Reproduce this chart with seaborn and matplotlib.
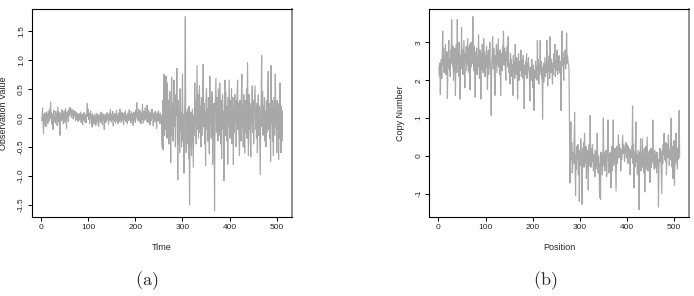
import numpy as np
import pandas as pd
import matplotlib
matplotlib.use("Agg")
import matplotlib.pyplot as plt
import seaborn as sns

# ---------------- data ----------------
obs_low = [
    -0.05, 0.02, 0.17, -0.08, -0.27, 0.05, -0.12, 0.08, 0.01, -0.15, 0.10, -0.03, 0.06, -0.10, 0.12, 0.03,
    -0.06, 0.15, 0.04, 0.27, -0.02, 0.09, -0.11, 0.05, -0.20, 0.07, 0.13, -0.04, 0.02, -0.09, 0.11, -0.01,
    0.06, -0.13, 0.18, 0.00, -0.07, 0.10, -0.18, -0.30, 0.04, 0.08, -0.05, 0.14, -0.02, 0.07, -0.10, 0.03,
    0.12, -0.08, 0.05, 0.16, -0.04, -0.18, 0.09, 0.02, 0.11, -0.06, 0.14, 0.04, 0.18, 0.08, 0.12, 0.01,
    0.15, 0.06, 0.10, -0.02, 0.13, 0.07, 0.03, 0.11, -0.05, 0.09, 0.02, -0.03, 0.08, -0.06, 0.05, 0.00,
    0.07, -0.04, 0.03, 0.10, -0.08, 0.02, 0.06, -0.12, 0.04, -0.02, 0.09, -0.06, 0.01, 0.05, -0.09, 0.03,
    0.11, 0.25, 0.02, 0.14, -0.03, 0.08, -0.10, 0.06, 0.12, -0.01, 0.04, -0.16, 0.07, -0.05, 0.03, -0.11,
    0.05, -0.07, 0.02, -0.13, 0.08, -0.04, 0.01, -0.09, 0.06, -0.15, 0.03, -0.02, 0.05, -0.08, 0.10, -0.06,
    0.02, -0.12, 0.07, -0.03, 0.04, -0.20, 0.01, 0.06, -0.08, 0.03, -0.05, 0.09, -0.02, 0.05, -0.11, 0.04,
    0.08, -0.04, 0.14, 0.02, -0.07, 0.06, -0.03, 0.11, -0.14, 0.03, -0.06, 0.07, 0.00, -0.09, 0.05, 0.13,
    -0.05, 0.04, -0.10, 0.08, 0.02, -0.06, 0.15, -0.02, 0.06, -0.08, 0.10, 0.01, -0.04, 0.07, -0.12, 0.05,
    0.09, -0.03, 0.12, -0.07, 0.04, 0.00, -0.10, 0.08, 0.03, -0.05, 0.14, -0.02, 0.06, -0.09, 0.11, 0.02,
    -0.06, 0.07, -0.13, 0.05, 0.10, -0.04, 0.08, -0.08, 0.13, 0.03, 0.26, -0.02, 0.09, -0.05, 0.15, 0.01,
    -0.07, 0.12, 0.04, -0.10, 0.08, -0.03, 0.23, 0.02, -0.09, 0.11, 0.05, -0.04, 0.17, 0.00, 0.09, -0.06,
    0.22, 0.03, -0.08, 0.13, -0.02, 0.07, -0.12, 0.10, 0.04, -0.05, 0.15, -0.01, 0.06, -0.14, 0.08, 0.02,
    -0.07, 0.11, -0.03, 0.06, -0.18, 0.09, 0.01, -0.06, 0.12, -0.04, 0.05, -0.10, 0.08, -0.02, 0.04, -0.20,
]
obs_high = [
    -0.50, 0.30, -0.55, 0.20, 0.75, -0.30, 0.40, -0.20, 0.72, 0.10, -0.35, 0.60, -0.10, 0.30, -0.45, 0.15,
    0.45, -0.20, -0.77, 0.10, 0.70, -0.30, 0.25, -0.40, 0.35, 0.65, -0.15, 0.20, -0.50, 0.40, 0.05, 0.85,
    -0.20, -1.07, 0.30, -0.45, 0.15, -0.60, 0.50, -0.25, 0.10, -0.50, 0.20, 0.75, -0.40, 0.05, -0.95, -0.20,
    0.30, 1.74, -0.35, -0.60, 0.10, -0.45, -0.20, 0.15, -0.70, 0.20, -1.50, -0.30, -0.50, 0.10, -0.65, -0.25,
    0.15, -0.40, -0.85, 0.05, -0.30, 0.60, -0.10, 0.30, -0.45, 0.25, 0.90, -0.20, 0.40, -0.35, 0.10, 0.55,
    -0.25, 0.20, -0.50, 0.35, 0.05, -0.30, 0.45, 0.92, -0.15, 0.25, -0.45, 0.10, -0.82, 0.30, 0.50, -0.20,
    0.15, -0.40, 0.35, 0.05, -0.62, 0.72, -0.10, 0.30, -0.35, 0.20, 0.45, -0.80, 0.10, -0.30, 0.25, -1.60,
    0.05, 0.40, 0.68, -0.25, 0.15, 0.35, -0.40, 0.50, 0.10, -0.30, 0.60, 0.20, -0.45, 0.30, -0.70, 0.15,
    0.40, -0.20, 0.10, -1.08, 0.25, 0.65, -0.30, 0.45, 0.05, -0.40, 0.20, -0.80, 0.35, -0.15, 0.65, 0.10,
    -0.35, 0.30, -0.05, 0.50, -0.45, 0.15, 0.35, -0.80, 0.20, -0.25, 0.40, -0.10, 0.30, -0.50, 0.10, 0.45,
    0.65, -0.20, 0.25, -0.35, -0.65, 0.30, 0.05, -0.40, 0.35, 0.75, -0.15, 0.20, -0.50, 0.40, 0.00, -0.60,
    0.30, -0.25, 0.15, 0.50, -0.35, 0.95, 0.10, -0.65, 0.40, -0.20, 0.25, -0.30, -0.67, 0.20, -0.10, 0.55,
    -0.25, 0.30, -0.45, 0.10, 0.35, 0.55, -0.20, 0.15, -0.35, 0.25, -0.60, 0.05, 0.40, -0.30, 0.20, -0.45,
    -0.98, 0.10, 0.30, 1.07, -0.15, 0.45, -0.30, 0.20, -0.05, 0.35, -0.40, 0.10, -0.50, 0.30, 0.05, -0.25,
    0.40, 0.80, -0.20, 0.25, -0.35, 0.15, -0.75, 0.90, -0.10, 0.30, -0.40, 0.20, -0.65, 0.35, 0.05, -0.30,
    0.75, -0.15, 0.20, -0.60, 0.30, -0.20, 0.10, -0.72, 0.25, -0.35, 0.60, -0.10, -0.60, 0.20, -0.40, 0.12,
]
copy_high = [
    2.36, 2.10, 2.45, 1.62, 2.30, 2.55, 2.05, 2.70, 3.30, 2.40, 2.85, 2.20, 2.60, 2.60, 2.95, 2.15,
    2.50, 2.75, 1.52, 2.40, 2.65, 3.05, 2.30, 2.55, 2.10, 2.80, 2.45, 3.60, 2.70, 2.35, 2.90, 2.00,
    2.60, 2.25, 2.85, 1.60, 2.50, 2.95, 2.20, 3.60, 2.40, 2.75, 2.10, 3.00, 2.55, 1.50, 2.65, 2.30,
    3.40, 2.45, 2.80, 2.15, 2.60, 3.05, 2.35, 1.80, 2.70, 2.50, 2.90, 2.25, 2.65, 3.10, 2.40, 2.85,
    2.20, 2.95, 1.75, 2.55, 3.00, 2.35, 2.70, 2.45, 3.68, 2.60, 2.25, 2.90, 2.40, 1.55, 2.75, 2.50,
    2.85, 2.15, 2.60, 2.35, 3.20, 2.55, 2.05, 2.80, 2.40, 1.50, 2.70, 2.30, 2.95, 2.45, 2.20, 3.10,
    2.50, 2.75, 2.10, 2.65, 2.35, 2.90, 2.25, 1.75, 2.60, 2.80, 2.15, 2.55, 3.00, 2.40, 2.20, 1.07,
    2.45, 2.70, 3.15, 2.30, 2.55, 2.85, 2.10, 1.60, 2.65, 2.40, 2.95, 2.20, 2.50, 2.75, 3.10, 2.35,
    2.60, 2.15, 2.80, 1.60, 2.45, 2.70, 2.25, 2.90, 2.55, 3.30, 2.40, 2.65, 2.85, 2.30, 2.00, 2.75,
    2.50, 2.90, 2.35, 3.15, 2.60, 2.20, 2.45, 1.90, 2.70, 2.30, 2.55, 2.10, 2.40, 1.60, 2.65, 2.25,
    2.50, 2.05, 2.95, 2.30, 2.15, 2.60, 2.40, 1.50, 2.35, 2.70, 2.00, 2.50, 2.25, 2.45, 2.80, 2.10,
    2.55, 2.30, 2.05, 2.65, 2.20, 1.25, 2.40, 2.15, 2.50, 2.35, 2.70, 2.05, 2.45, 2.25, 2.60, 2.30,
    2.10, 1.45, 2.35, 2.20, 2.00, 2.55, 2.30, 1.80, 2.40, 2.15, 1.20, 2.25, 2.05, 2.50, 2.20, 2.35,
    2.00, 3.05, 2.30, 2.55, 1.90, 2.40, 2.15, 3.05, 2.25, 2.50, 2.05, 2.35, 0.97, 2.20, 2.45, 1.95,
    2.30, 2.60, 2.10, 2.40, 2.20, 3.05, 2.35, 1.85, 2.50, 2.25, 2.65, 2.05, 3.15, 2.40, 2.20, 2.55,
    2.30, 1.90, 2.45, 2.15, 2.70, 2.35, 2.95, 2.10, 2.50, 2.25, 2.60, 2.80, 2.15, 2.45, 2.30, 2.65,
    2.20, 2.50, 2.35, 1.20, 2.55, 3.30, 2.40, 2.75, 2.25, 2.00, 2.60, 2.45, 2.80, 2.30, 2.55, 3.25,
    2.45, 2.65, 2.50, 2.40, 2.35, 1.00,
]
copy_low = [
    -0.72, 0.20, 0.90, -0.10, 0.35, -0.45, -0.30, 0.10, -0.20, 0.40, 1.15, -0.15, -1.05, 0.05, -0.35, 0.25,
    -0.10, 0.30, -0.50, 0.15, -1.20, 0.00, -0.25, 0.45, 0.10, -0.40, -1.28, 0.20, -0.15, 0.35, -0.30, 0.60,
    0.05, -0.20, 0.25, -0.60, 0.10, -0.35, 0.15, -0.90, -0.05, 0.30, -0.25, 1.07, 0.00, -0.30, 0.20, -0.15,
    0.30, -0.10, -0.40, 0.05, -0.20, -0.55, 0.15, -0.35, 0.10, -0.25, 0.60, -0.15, -0.45, 0.00, -0.30, -1.10,
    -0.20, -1.15, 0.10, -0.35, 0.05, -0.50, -0.15, 1.00, -0.25, 0.10, -0.40, 0.00, -0.30, 0.15, -0.55, -0.10,
    0.20, 0.95, -0.20, -0.45, 0.05, -0.30, 0.10, -0.85, -0.15, 0.25, -0.40, 0.00, 0.95, -0.25, 0.15, -0.10,
    0.20, -0.35, -0.93, 0.05, 0.25, -0.20, 0.10, 0.55, -0.05, 0.30, 0.00, 0.20, -0.40, 0.15, -0.10, 0.25,
    0.55, 0.05, 0.30, 0.25, -0.15, 0.20, 0.10, 0.35, -0.05, 0.30, 0.15, -0.20, 0.25, 0.05, 0.20, -0.10,
    -0.50, 0.15, -0.05, 0.25, 0.05, 1.32, -0.20, 0.30, -0.85, 0.10, -0.30, 0.20, 0.90, -0.15, 0.05, -0.50,
    -0.20, 0.15, -0.35, -1.42, 0.10, -0.25, 0.45, -0.40, 0.05, -0.15, 0.45, -0.30, 0.00, -0.45, 0.20, -0.95,
    -0.10, 0.25, -0.35, 0.05, 0.50, -0.20, -0.40, 0.10, -0.25, 0.15, -0.70, -0.10, 0.20, -0.30, 0.05, -0.15,
    0.95, -0.20, 0.10, -0.35, 0.15, -0.30, 0.05, -0.20, -0.45, 0.10, -0.25, -0.10, -1.35, -0.30, 0.05, 0.20,
    -0.15, 0.10, -0.40, -1.00, 0.15, -0.20, 0.30, 0.05, 0.60, -0.10, 0.25, -0.15, 0.35, -0.50, 0.10, 0.30,
    -0.05, 0.55, 0.20, -0.25, 0.15, -0.10, 0.35, 1.00, 0.05, -0.30, 0.25, -0.60, 0.10, 0.40, -0.78, 0.15,
    -0.20, 0.60, 0.05, -0.15, -0.35, 0.20, -0.10, 0.40, 1.20, -0.05,
]

x_ticks = [0, 100, 200, 300, 400, 500]
ya_ticks = [-1.5, -1.0, -0.5, 0.0, 0.5, 1.0, 1.5]
yb_ticks = [-1, 0, 1, 2, 3]
panel_titles = ["(a)", "(b)"]
x_labels = ["Time", "Position"]
y_labels = ["Observation Value", "Copy Number"]

obs = obs_low + obs_high
copy = copy_high + copy_low
df_a = pd.DataFrame({"Time": np.arange(1, len(obs) + 1), "Value": obs})
df_b = pd.DataFrame({"Position": np.arange(1, len(copy) + 1), "Value": copy})

# ---------------- style ----------------
sns.set_style("white")
plt.rcParams["font.family"] = ["Liberation Sans", "DejaVu Sans"]
plt.rcParams["mathtext.fontset"] = "cm"
plt.rcParams["axes.unicode_minus"] = False

W, H = 694, 296
fig = plt.figure(figsize=(W / 100, H / 100), dpi=100)

line_color = "#a8a8a8"


def setup(ax, df, xcol, yticks, ylim, xlabel, ylabel):
    sns.lineplot(data=df, x=xcol, y="Value", ax=ax, color=line_color,
                 linewidth=0.85, estimator=None, sort=False)
    n = len(df)
    ext = 0.04 * (n - 1)
    ax.set_xlim(1 - ext, n + ext)
    ax.set_ylim(*ylim)
    ax.set_xticks(x_ticks)
    ax.set_xticklabels([str(t) for t in x_ticks])
    ax.set_yticks(yticks)
    ax.set_yticklabels([("%g" % t) if isinstance(t, int) else ("%.1f" % t) for t in yticks])
    ax.tick_params(axis="both", which="major", direction="out", length=2.9,
                   width=0.7, color="black", labelsize=6, pad=2.2,
                   bottom=True, left=True, top=False, right=False)
    ax.tick_params(axis="y", labelrotation=90)
    for lab in ax.get_yticklabels():
        lab.set_verticalalignment("center")
    for s in ["left", "bottom", "top"]:
        ax.spines[s].set_color("black")
        ax.spines[s].set_linewidth(0.8)
    ax.spines["right"].set_color("#888888")
    ax.spines["right"].set_linewidth(1.3)
    ax.set_xlabel(xlabel, fontsize=6.5)
    ax.set_ylabel(ylabel, fontsize=6.5)
    ax.xaxis.set_label_coords(0.5, -0.125)
    ax.yaxis.set_label_coords(-0.094, 0.5)
    ax.grid(False)


ax_a = fig.add_axes([32 / W, 1 - 217 / H, 260 / W, 208 / H])
ax_b = fig.add_axes([429.3 / W, 1 - 217 / H, 260 / W, 208 / H])

setup(ax_a, df_a, "Time", ya_ticks, (-1.707, 1.873), x_labels[0], y_labels[0])
setup(ax_b, df_b, "Position", yb_ticks, (-1.616, 3.883), x_labels[1], y_labels[1])

fig.text(147 / W, 1 - 281 / H, r"$\mathrm{" + panel_titles[0] + "}$",
         ha="center", va="center", fontsize=13)
fig.text(545.5 / W, 1 - 281 / H, r"$\mathrm{" + panel_titles[1] + "}$",
         ha="center", va="center", fontsize=13)

fig.savefig("out.png", dpi=100)
